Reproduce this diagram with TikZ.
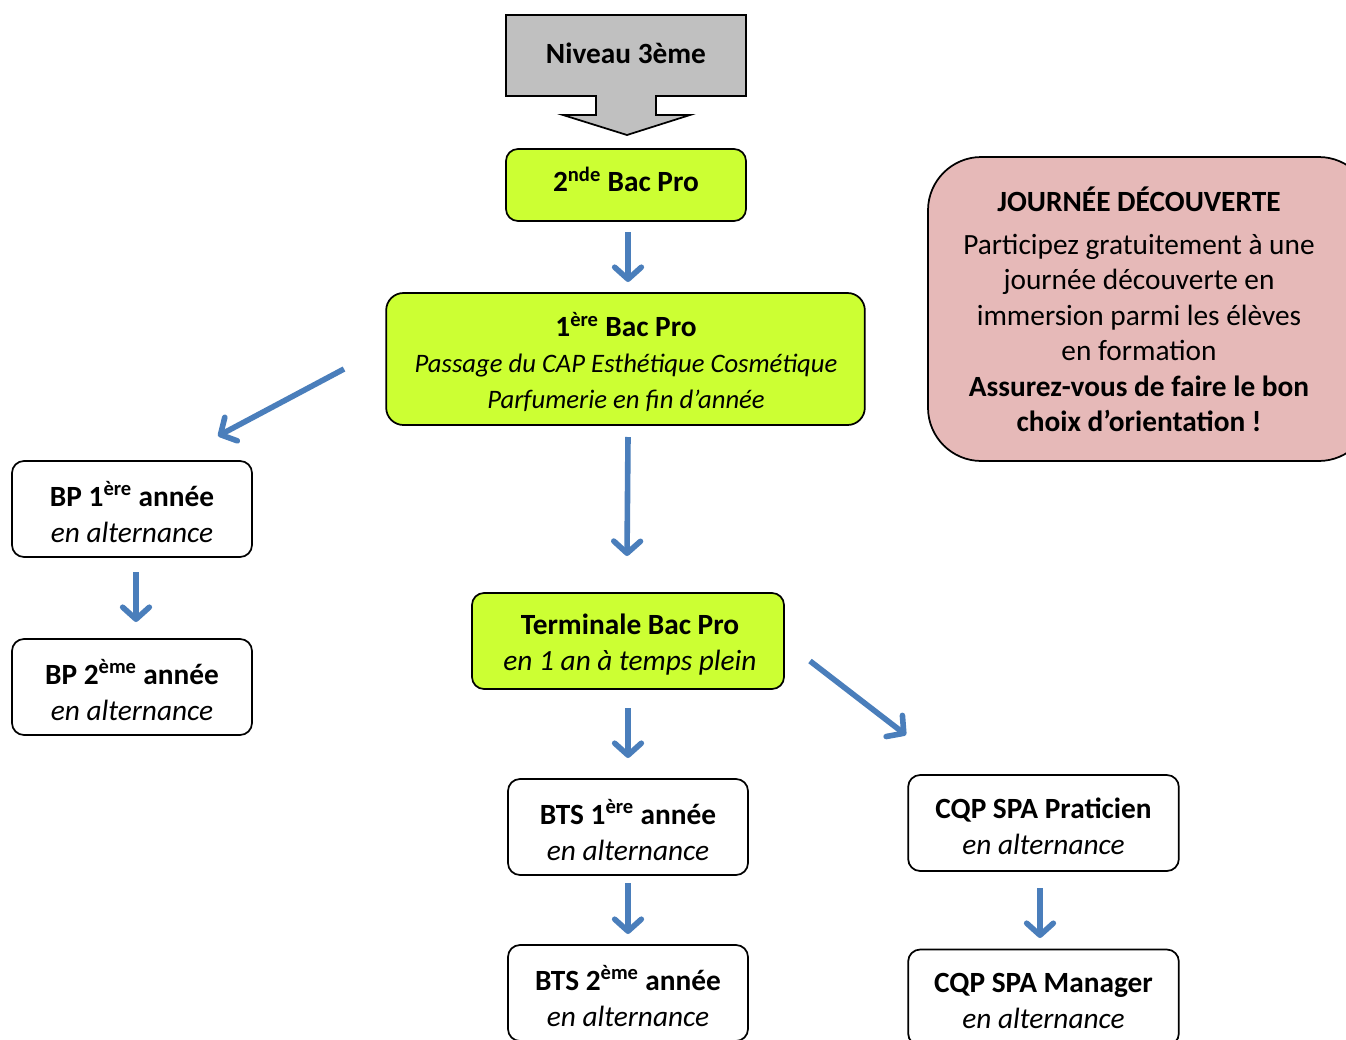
\documentclass[tikz,border=0pt]{standalone}
\usepackage{fontspec}
\setmainfont{Carlito}
\usetikzlibrary{arrows.meta}
\definecolor{boxgreen}{RGB}{204,255,51}
\definecolor{boxpink}{RGB}{230,185,184}
\definecolor{boxgrey}{RGB}{192,192,192}
\definecolor{arrowblue}{RGB}{74,126,187}
\tikzset{
  flowbox/.style={draw=black, line width=1.3pt, rounded corners=9pt, inner sep=0pt},
  greenbox/.style={flowbox, fill=boxgreen},
  whitebox/.style={flowbox, fill=white, minimum width=180pt, minimum height=72pt},
  boxtext/.style={align=center, inner sep=0pt, font=\fontsize{22}{27}\selectfont},
  bluearrow/.style={draw=arrowblue, line width=4.2pt,
    -{Straight Barb[length=9pt,width=20pt,line cap=round,line join=round]}},
}
\begin{document}
\begin{tikzpicture}[x=0.75pt,y=-0.75pt]
\clip (0,0) rectangle (1346,1039);
\useasboundingbox (0,0) rectangle (1346,1039);
\fill[white] (0,0) rectangle (1346,1039);

% grey block arrow
\draw[fill=boxgrey, line width=1.3pt, line join=miter]
  (506,15) -- (746,15) -- (746,96) -- (656,96) -- (656,115) -- (690,115) -- (627,135)
  -- (563,115) -- (596,115) -- (596,96) -- (506,96) -- cycle;
\node[boxtext, font=\fontsize{22}{27}\selectfont\bfseries] (niv) at (626,53) {Niveau 3ème};

% boxes
\node[greenbox, minimum width=180pt, minimum height=54pt] (sec) at (626,185) {};
\node[greenbox, minimum width=359pt, minimum height=99pt, rounded corners=13pt] (prem) at (625.5,359) {};
\node[greenbox, minimum width=234pt, minimum height=72pt] (term) at (628,641) {};
\node[whitebox] (bp1) at (132,509) {};
\node[whitebox] (bp2) at (132,687) {};
\node[whitebox] (bts1) at (628,827) {};
\node[whitebox] (bts2) at (628,993) {};
\node[whitebox, minimum width=203pt] (cqp1) at (1043.5,823) {};
\node[whitebox, minimum width=203pt] (cqp2) at (1043.5,997.5) {};

% box texts
\node[boxtext] (sect) at (626,179) {\bfseries 2\textsuperscript{nde} Bac Pro};
\node[boxtext] (premt) at (626,362)
  {\bfseries 1\textsuperscript{ère} Bac Pro\\
   \fontsize{20}{24.5}\selectfont\itshape Passage du CAP Esthétique Cosmétique\\
   \fontsize{20}{24.5}\selectfont\itshape Parfumerie en fin d’année};
\node[boxtext] (termt) at (630,645) {\bfseries Terminale Bac Pro\\ \itshape en 1 an à temps plein};
\node[boxtext] (bp1t) at (132,512) {\bfseries BP 1\textsuperscript{ère} année\\ \itshape en alternance};
\node[boxtext] (bp2t) at (132,690) {\bfseries BP 2\textsuperscript{ème} année\\ \itshape en alternance};
\node[boxtext] (bts1t) at (628,830) {\bfseries BTS 1\textsuperscript{ère} année\\ \itshape en alternance};
\node[boxtext] (bts2t) at (628,996) {\bfseries BTS 2\textsuperscript{ème} année\\ \itshape en alternance};
\node[boxtext] (cqp1t) at (1043.5,826) {\bfseries CQP SPA Praticien\\ \itshape en alternance};
\node[boxtext] (cqp2t) at (1043.5,1000.5) {\bfseries CQP SPA Manager\\ \itshape en alternance};

% pink info box
\node[draw=black, line width=1.3pt, fill=boxpink, rounded corners=40pt,
  minimum width=333pt, minimum height=228pt, inner sep=0pt] (pink) at (1150,309) {};
\node[align=center, font=\fontsize{22}{26.6}\selectfont, inner sep=0pt] (pinktext) at (1139,309.5)
  {\bfseries JOURNÉE DÉCOUVERTE\\[5.3pt]
   Participez gratuitement à une\\
   journée découverte en\\
   immersion parmi les élèves\\
   en formation\\
   \bfseries Assurez-vous de faire le bon\\
   \bfseries choix d’orientation !};

% arrow end points
\coordinate (a1s) at (628,232); \coordinate (a1e) at (628,282);
\coordinate (a2s) at (344,369); \coordinate (a2e) at (218,436);
\coordinate (a3s) at (628,437); \coordinate (a3e) at (627,556);
\coordinate (a4s) at (136,572); \coordinate (a4e) at (136,622);
\coordinate (a5s) at (628,708); \coordinate (a5e) at (628,758);
\coordinate (a6s) at (810,661); \coordinate (a6e) at (906,735);
\coordinate (a7s) at (628,883); \coordinate (a7e) at (628,934);
\coordinate (a8s) at (1040,888); \coordinate (a8e) at (1040,938);

\draw[bluearrow] (a1s) -- (a1e);
\draw[bluearrow] (a2s) -- (a2e);
\draw[bluearrow] (a3s) -- (a3e);
\draw[bluearrow] (a4s) -- (a4e);
\draw[bluearrow] (a5s) -- (a5e);
\draw[bluearrow] (a6s) -- (a6e);
\draw[bluearrow] (a7s) -- (a7e);
\draw[bluearrow] (a8s) -- (a8e);
\end{tikzpicture}
\end{document}
